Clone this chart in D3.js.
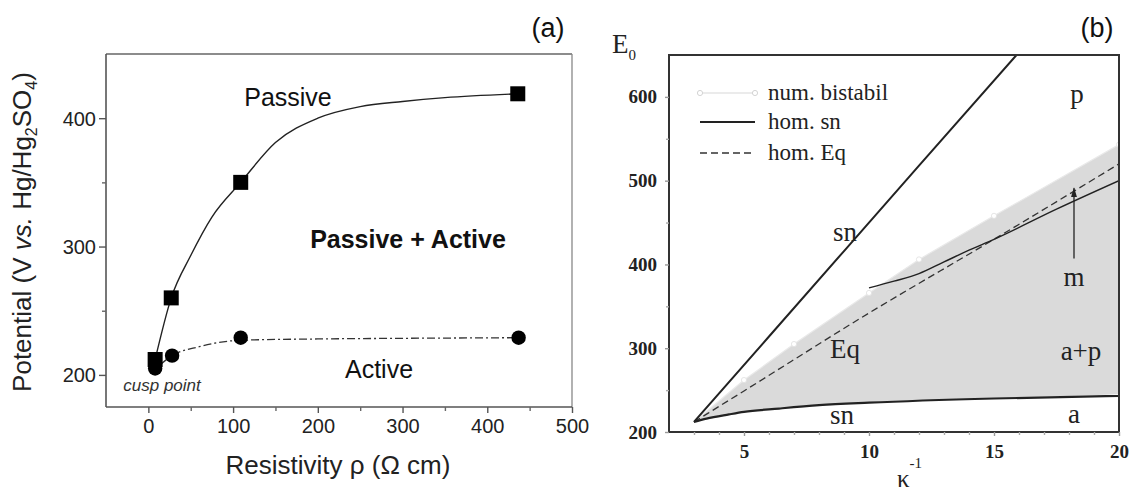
<!DOCTYPE html>
<html>
<head>
<meta charset="utf-8">
<script src="https://cdn.jsdelivr.net/npm/d3@7"></script>
<style>
  html, body { margin: 0; padding: 0; background: #fff; }
  svg { display: block; }
</style>
</head>
<body>
<svg id="fig" width="1130" height="492"></svg>
<script>
// ---------- Panel (a): transition potentials vs. electrolyte resistivity ----------
const passiveRho = [8, 27, 109, 436];
const passiveE   = [212, 260, 350, 419];
const activeRho  = [8, 28, 109, 437];
const activeE    = [205, 215, 229, 229];
// guide curves drawn through the measurements
const passiveFitRho = [8, 27, 50, 75, 109, 150, 200, 250, 300, 350, 436];
const passiveFitE   = [212, 260, 293, 323, 350, 381, 400, 409, 413, 416, 419];
const activeFitRho  = [14, 28, 60, 109, 200, 300, 437];
const activeFitE    = [208, 215, 222, 227, 228, 228.5, 229];
const rhoTicks  = [0, 100, 200, 300, 400, 500];
const rhoMinor  = [50, 150, 250, 350, 450];
const potTicks  = [200, 300, 400];
const potMinor  = [250, 350];

// ---------- Panel (b): bifurcation diagram E0 vs. 1/kappa ----------
const kappaTicks = [5, 10, 15, 20];
const kappaMinor = [3, 4, 6, 7, 8, 9, 11, 12, 13, 14, 16, 17, 18, 19];
const e0Ticks    = [200, 300, 400, 500, 600];
const e0Minor    = [250, 350, 450, 550];
const bistabilK     = [3, 5, 7, 10, 12, 15, 20];
const bistabilUpper = [212, 262, 305, 366, 406, 458, 543];
const bistabilLower = [212, 224, 229, 235, 237, 240, 245];
const snUpperK = [3, 6, 9, 12, 15.9];
const snUpperE = [212, 314, 416, 518, 650];
const snLowerK = [3, 3.5, 4.4, 5, 6.4, 8, 10, 15, 20];
const snLowerE = [212, 216, 221, 224, 228, 232, 235, 240, 243];
const snMidK = [10, 11, 12, 13, 14, 15, 17.5, 20];
const snMidE = [372, 380, 389, 403, 417, 430, 466, 500];
const eqK = [3, 5, 10, 15, 20];
const eqE = [212, 249, 342, 430, 520];
const arrowK = [18.2, 18.2];
const arrowE = [407, 491];

const svg = d3.select("#fig");
const SANS = "'Liberation Sans', Arial, sans-serif";
const SERIF = "'Liberation Serif', 'Times New Roman', serif";
const zip = (a, b) => a.map((v, i) => [v, b[i]]);

// ================= Panel (a) =================
const xA = d3.scaleLinear().domain([-50, 500]).range([106, 572]);
const yA = d3.scaleLinear().domain([175, 450]).range([407, 54]);
const gA = svg.append("g");

// frame: light top/right, darker axes
gA.append("line").attr("x1", xA(-50)).attr("x2", xA(500)).attr("y1", yA(450)).attr("y2", yA(450))
  .attr("stroke", "#666").attr("stroke-width", 1.5);
gA.append("line").attr("x1", xA(500)).attr("x2", xA(500)).attr("y1", yA(450)).attr("y2", yA(175))
  .attr("stroke", "#888").attr("stroke-width", 1.3);
gA.append("line").attr("x1", xA(-50)).attr("x2", xA(500)).attr("y1", yA(175)).attr("y2", yA(175))
  .attr("stroke", "#555").attr("stroke-width", 1.6);
gA.append("line").attr("x1", xA(-50)).attr("x2", xA(-50)).attr("y1", yA(450)).attr("y2", yA(175))
  .attr("stroke", "#555").attr("stroke-width", 1.6);

function styleAxis(g, font, size, weight, color) {
  g.select(".domain").remove();
  g.selectAll(".tick line").attr("stroke", color).attr("stroke-width", 1.4);
  g.selectAll(".tick text").attr("font-family", font).attr("font-size", size)
    .attr("font-weight", weight).attr("fill", "#222");
}

const axA_x = gA.append("g").attr("transform", `translate(0,${yA(175)})`)
  .call(d3.axisBottom(xA).tickValues(rhoTicks).tickSize(6).tickPadding(6).tickFormat(d3.format("d")));
styleAxis(axA_x, SANS, 20, "normal", "#555");
gA.append("g").attr("transform", `translate(0,${yA(175)})`)
  .call(d3.axisBottom(xA).tickValues(rhoMinor).tickSize(4).tickFormat(""))
  .call(g => styleAxis(g, SANS, 0, "normal", "#666"));

const axA_y = gA.append("g").attr("transform", `translate(${xA(-50)},0)`)
  .call(d3.axisLeft(yA).tickValues(potTicks).tickSize(7).tickPadding(3).tickFormat(d3.format("d")));
styleAxis(axA_y, SANS, 20, "normal", "#555");
axA_y.selectAll(".tick text").attr("dy", "0.35em");
gA.append("g").attr("transform", `translate(${xA(-50)},0)`)
  .call(d3.axisLeft(yA).tickValues(potMinor).tickSize(4).tickFormat(""))
  .call(g => styleAxis(g, SANS, 0, "normal", "#666"));

// guide curves
const lineA = d3.line().x(d => xA(d[0])).y(d => yA(d[1])).curve(d3.curveMonotoneX);
gA.append("path").datum(zip(passiveFitRho, passiveFitE)).attr("d", lineA)
  .attr("fill", "none").attr("stroke", "#222").attr("stroke-width", 1.4);
gA.append("path").datum(zip(activeFitRho, activeFitE)).attr("d", lineA)
  .attr("fill", "none").attr("stroke", "#333").attr("stroke-width", 1.3)
  .attr("stroke-dasharray", "8,3,2,3");

// markers
gA.selectAll("circle.act").data(zip(activeRho, activeE)).join("circle")
  .attr("cx", d => xA(d[0])).attr("cy", d => yA(d[1])).attr("r", 7.2).attr("fill", "#000");
gA.selectAll("rect.pas").data(zip(passiveRho, passiveE)).join("rect")
  .attr("x", d => xA(d[0]) - 7.5).attr("y", d => yA(d[1]) - 7.5)
  .attr("width", 15).attr("height", 15).attr("fill", "#000");

// region labels
gA.append("text").attr("x", 288).attr("y", 106).attr("text-anchor", "middle")
  .attr("font-family", SANS).attr("font-size", 25).attr("fill", "#111").text("Passive");
gA.append("text").attr("x", 408).attr("y", 248).attr("text-anchor", "middle")
  .attr("font-family", SANS).attr("font-size", 25).attr("font-weight", "bold").attr("fill", "#111")
  .text("Passive + Active");
gA.append("text").attr("x", 379).attr("y", 378).attr("text-anchor", "middle")
  .attr("font-family", SANS).attr("font-size", 25).attr("fill", "#111").text("Active");
gA.append("text").attr("x", 162).attr("y", 391).attr("text-anchor", "middle")
  .attr("font-family", SANS).attr("font-size", 17).attr("font-style", "italic").attr("fill", "#333")
  .text("cusp point");

// axis titles
gA.append("text").attr("x", 338).attr("y", 474).attr("text-anchor", "middle")
  .attr("font-family", SANS).attr("font-size", 26).attr("fill", "#222")
  .text("Resistivity \u03C1 (\u03A9 cm)");
const yt = gA.append("text").attr("transform", "translate(31,232) rotate(-90)")
  .attr("text-anchor", "middle").attr("font-family", SANS).attr("font-size", 26).attr("fill", "#222");
yt.append("tspan").text("Potential (V ");
yt.append("tspan").attr("font-style", "italic").text("vs.");
yt.append("tspan").text(" Hg/Hg");
yt.append("tspan").attr("font-size", 16).attr("dy", 6).text("2");
yt.append("tspan").attr("dy", -6).text("SO");
yt.append("tspan").attr("font-size", 16).attr("dy", 6).text("4");
yt.append("tspan").attr("dy", -6).text(")");

gA.append("text").attr("x", 548).attr("y", 37).attr("text-anchor", "middle")
  .attr("font-family", SANS).attr("font-size", 27).attr("fill", "#111").text("(a)");

// ================= Panel (b) =================
const xB = d3.scaleLinear().domain([2, 20]).range([669, 1119]);
const yB = d3.scaleLinear().domain([200, 650]).range([432, 55]);
const gB = svg.append("g");

svg.append("defs").append("clipPath").attr("id", "clipB")
  .append("rect").attr("x", xB(2)).attr("y", yB(650)).attr("width", xB(20) - xB(2)).attr("height", yB(200) - yB(650));
svg.select("defs").append("marker").attr("id", "arrowHead")
  .attr("viewBox", "0 0 10 10").attr("refX", 9).attr("refY", 5)
  .attr("markerWidth", 10).attr("markerHeight", 10).attr("markerUnits", "userSpaceOnUse")
  .attr("orient", "auto")
  .append("path").attr("d", "M0,2 L10,5 L0,8 Z").attr("fill", "#222");

const plotB = gB.append("g").attr("clip-path", "url(#clipB)");

// bistable region
const areaB = d3.area().x(d => xB(d[0])).y0(d => yB(d[1])).y1(d => yB(d[2]));
plotB.append("path").datum(bistabilK.map((k, i) => [k, bistabilLower[i], bistabilUpper[i]]))
  .attr("d", areaB).attr("fill", "#dadada");
const lineB = d3.line().x(d => xB(d[0])).y(d => yB(d[1]));
plotB.append("path").datum(zip(bistabilK, bistabilUpper)).attr("d", lineB)
  .attr("fill", "none").attr("stroke", "#e9e9e9").attr("stroke-width", 1.2);
plotB.selectAll("circle.bu").data(zip(bistabilK, bistabilUpper).slice(1)).join("circle")
  .attr("cx", d => xB(d[0])).attr("cy", d => yB(d[1])).attr("r", 2.6)
  .attr("fill", "#fff").attr("stroke", "#e0e0e0").attr("stroke-width", 0.8);

// homoclinic Eq (dashed)
plotB.append("path").datum(zip(eqK, eqE)).attr("d", lineB.curve(d3.curveMonotoneX))
  .attr("fill", "none").attr("stroke", "#333").attr("stroke-width", 1.3).attr("stroke-dasharray", "7,4");
// saddle-node branches (solid)
plotB.append("path").datum(zip(snUpperK, snUpperE)).attr("d", lineB.curve(d3.curveLinear))
  .attr("fill", "none").attr("stroke", "#222").attr("stroke-width", 2);
plotB.append("path").datum(zip(snLowerK, snLowerE)).attr("d", lineB.curve(d3.curveMonotoneX))
  .attr("fill", "none").attr("stroke", "#222").attr("stroke-width", 2.2);
plotB.append("path").datum(zip(snMidK, snMidE)).attr("d", lineB.curve(d3.curveMonotoneX))
  .attr("fill", "none").attr("stroke", "#222").attr("stroke-width", 1.4);

// arrow toward the m-branch
gB.append("line").attr("x1", xB(arrowK[0])).attr("x2", xB(arrowK[1]))
  .attr("y1", yB(arrowE[0])).attr("y2", yB(arrowE[1]))
  .attr("stroke", "#222").attr("stroke-width", 1.3).attr("marker-end", "url(#arrowHead)");

// frame
gB.append("rect").attr("x", xB(2)).attr("y", yB(650)).attr("width", xB(20) - xB(2)).attr("height", yB(200) - yB(650))
  .attr("fill", "none").attr("stroke", "#333").attr("stroke-width", 2);

// axes
const axB_x = gB.append("g").attr("transform", `translate(0,${yB(200)})`)
  .call(d3.axisBottom(xB).tickValues(kappaTicks).tickSize(4).tickPadding(9).tickFormat(d3.format("d")));
styleAxis(axB_x, SERIF, 19, "bold", "#999");
gB.append("g").attr("transform", `translate(0,${yB(200)})`)
  .call(d3.axisBottom(xB).tickValues(kappaMinor).tickSize(3).tickFormat(""))
  .call(g => styleAxis(g, SERIF, 0, "normal", "#aaa"));
const axB_y = gB.append("g").attr("transform", `translate(${xB(2)},0)`)
  .call(d3.axisLeft(yB).tickValues(e0Ticks).tickSize(4).tickPadding(8).tickFormat(d3.format("d")));
styleAxis(axB_y, SERIF, 19, "bold", "#999");
gB.append("g").attr("transform", `translate(${xB(2)},0)`)
  .call(d3.axisLeft(yB).tickValues(e0Minor).tickSize(3).tickFormat(""))
  .call(g => styleAxis(g, SERIF, 0, "normal", "#aaa"));

// legend
const legend = [
  { label: "num. bistabil", y: 93, kind: "bistabil" },
  { label: "hom. sn", y: 122, kind: "sn" },
  { label: "hom. Eq", y: 153, kind: "eq" }
];
const lg = gB.append("g");
legend.forEach(it => {
  const ln = lg.append("line").attr("x1", 700).attr("x2", 755).attr("y1", it.y).attr("y2", it.y);
  if (it.kind === "bistabil") {
    ln.attr("stroke", "#d8d8d8").attr("stroke-width", 1.2);
    [700, 755].forEach(cx => lg.append("circle").attr("cx", cx).attr("cy", it.y).attr("r", 2.6)
      .attr("fill", "#fff").attr("stroke", "#cfcfcf").attr("stroke-width", 0.9));
  } else if (it.kind === "sn") {
    ln.attr("stroke", "#222").attr("stroke-width", 2.2);
  } else {
    ln.attr("stroke", "#333").attr("stroke-width", 1.3).attr("stroke-dasharray", "7,4");
  }
  lg.append("text").attr("x", 768).attr("y", it.y + 7).attr("font-family", SERIF)
    .attr("font-size", 23).attr("fill", "#222").text(it.label);
});

// region labels
const regionLabels = [
  { t: "p", x: 1077, y: 103 },
  { t: "sn", x: 845, y: 241 },
  { t: "Eq", x: 845, y: 358 },
  { t: "m", x: 1074, y: 286 },
  { t: "a+p", x: 1081, y: 360 },
  { t: "sn", x: 842, y: 424 },
  { t: "a", x: 1074, y: 423 }
];
gB.selectAll("text.region").data(regionLabels).join("text")
  .attr("x", d => d.x).attr("y", d => d.y).attr("text-anchor", "middle")
  .attr("font-family", SERIF).attr("font-size", 27).attr("fill", "#222").text(d => d.t);

// axis titles
const e0 = gB.append("text").attr("x", 612).attr("y", 53).attr("font-family", SERIF)
  .attr("font-size", 27).attr("fill", "#222");
e0.append("tspan").text("E");
e0.append("tspan").attr("font-size", 15).attr("dy", 7).text("0");
const kt = gB.append("text").attr("x", 897).attr("y", 487).attr("font-family", SERIF)
  .attr("font-size", 25).attr("fill", "#222");
kt.append("tspan").text("\u03BA");
kt.append("tspan").attr("font-size", 15).attr("dy", -19).text("-1");

gB.append("text").attr("x", 1097).attr("y", 37).attr("text-anchor", "middle")
  .attr("font-family", SANS).attr("font-size", 27).attr("fill", "#111").text("(b)");
</script>
</body>
</html>
